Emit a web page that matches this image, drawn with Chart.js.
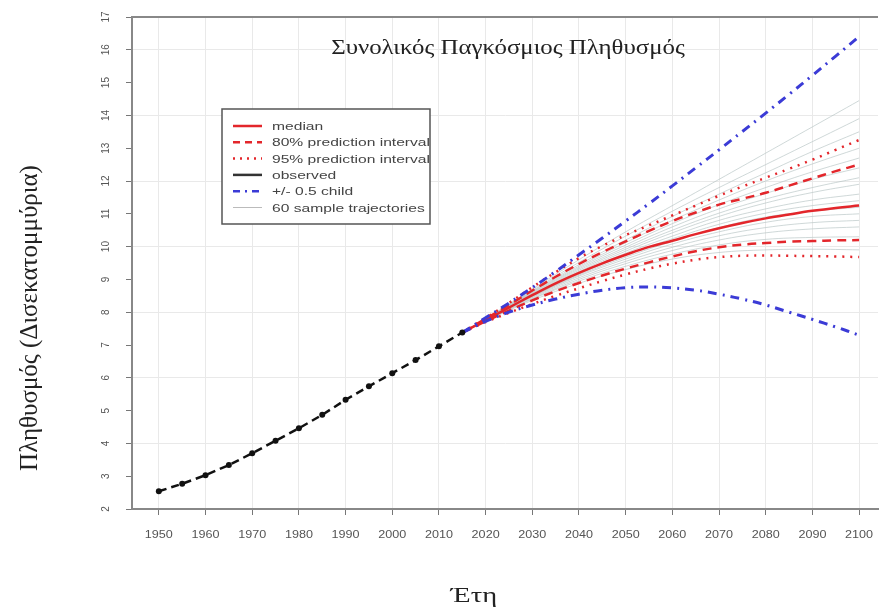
<!DOCTYPE html>
<html>
<head>
<meta charset="utf-8">
<script src="https://cdn.jsdelivr.net/npm/chart.js@4.4.1/dist/chart.umd.min.js"></script>
<style>
  html, body { margin: 0; padding: 0; background: #fff; }
  #popChart { display: block; }
</style>
</head>
<body>
<canvas id="popChart" width="882" height="610"></canvas>
<script>
// observed world population (billions), 1950-2015
const obsYears = [1950, 1955, 1960, 1965, 1970, 1975, 1980, 1985, 1990, 1995, 2000, 2005, 2010, 2015];
const obsPop = [2.54, 2.77, 3.03, 3.34, 3.70, 4.08, 4.46, 4.87, 5.33, 5.74, 6.14, 6.54, 6.96, 7.38];

// projections, 2015-2100
const projYears = [2015, 2020, 2025, 2030, 2035, 2040, 2045, 2050, 2055, 2060, 2065, 2070, 2075, 2080, 2085, 2090, 2095, 2100];
const median    = [7.38, 7.76, 8.14, 8.52, 8.88, 9.20, 9.49, 9.75, 9.99, 10.18, 10.38, 10.56, 10.72, 10.86, 10.98, 11.09, 11.18, 11.25];
const pi80Upper = [7.38, 7.80, 8.22, 8.66, 9.08, 9.47, 9.83, 10.16, 10.48, 10.78, 11.04, 11.28, 11.46, 11.64, 11.86, 12.08, 12.30, 12.50];
const pi80Lower = [7.38, 7.72, 8.05, 8.36, 8.64, 8.89, 9.12, 9.33, 9.52, 9.70, 9.86, 9.98, 10.06, 10.11, 10.15, 10.17, 10.19, 10.20];
const pi95Upper = [7.38, 7.82, 8.28, 8.76, 9.22, 9.65, 10.02, 10.35, 10.65, 10.95, 11.25, 11.55, 11.83, 12.10, 12.37, 12.65, 12.95, 13.25];
const pi95Lower = [7.38, 7.70, 7.98, 8.25, 8.50, 8.73, 8.95, 9.15, 9.33, 9.48, 9.60, 9.68, 9.72, 9.73, 9.72, 9.71, 9.70, 9.68];
const childPlus  = [7.38, 7.83, 8.28, 8.75, 9.24, 9.75, 10.26, 10.78, 11.31, 11.85, 12.40, 12.95, 13.51, 14.07, 14.64, 15.22, 15.81, 16.40];
const childMinus = [7.38, 7.72, 8.00, 8.22, 8.40, 8.55, 8.67, 8.75, 8.77, 8.74, 8.67, 8.55, 8.40, 8.22, 8.00, 7.78, 7.55, 7.30];

// sample trajectories (subset), read at these years
const trajYears = [2015, 2020, 2030, 2040, 2050, 2060, 2070, 2080, 2090, 2100];
const trajectories = [
  [7.38, 7.80, 8.70, 9.60, 10.45, 11.25, 12.05, 12.85, 13.65, 14.45],
  [7.38, 7.79, 8.66, 9.52, 10.32, 11.08, 11.80, 12.50, 13.20, 13.90],
  [7.38, 7.79, 8.64, 9.45, 10.20, 10.92, 11.60, 12.25, 12.90, 13.50],
  [7.38, 7.78, 8.62, 9.40, 10.12, 10.80, 11.42, 12.00, 12.52, 13.00],
  [7.38, 7.78, 8.60, 9.36, 10.05, 10.70, 11.28, 11.80, 12.28, 12.70],
  [7.38, 7.77, 8.58, 9.32, 9.98, 10.60, 11.15, 11.62, 12.05, 12.40],
  [7.38, 7.77, 8.56, 9.28, 9.92, 10.50, 11.02, 11.45, 11.80, 12.10],
  [7.38, 7.77, 8.54, 9.24, 9.86, 10.42, 10.92, 11.33, 11.65, 11.90],
  [7.38, 7.76, 8.52, 9.20, 9.80, 10.32, 10.80, 11.15, 11.42, 11.60],
  [7.38, 7.76, 8.50, 9.16, 9.74, 10.24, 10.68, 11.02, 11.25, 11.40],
  [7.38, 7.76, 8.49, 9.13, 9.68, 10.16, 10.58, 10.90, 11.08, 11.20],
  [7.38, 7.75, 8.47, 9.10, 9.62, 10.08, 10.45, 10.74, 10.92, 11.00],
  [7.38, 7.75, 8.45, 9.05, 9.55, 9.98, 10.33, 10.58, 10.73, 10.80],
  [7.38, 7.74, 8.42, 9.00, 9.48, 9.88, 10.20, 10.42, 10.54, 10.60],
  [7.38, 7.74, 8.40, 8.95, 9.40, 9.77, 10.05, 10.22, 10.28, 10.30],
  [7.38, 7.73, 8.36, 8.88, 9.30, 9.62, 9.82, 9.90, 9.92, 9.90]
];

const xTicks = [1950, 1960, 1970, 1980, 1990, 2000, 2010, 2020, 2030, 2040, 2050, 2060, 2070, 2080, 2090, 2100];
const yTicks = [2, 3, 4, 5, 6, 7, 8, 9, 10, 11, 12, 13, 14, 15, 16, 17];

const chartTitle = 'Συνολικός Παγκόσμιος Πληθυσμός';
const xTitle = 'Έτη';
const yTitle = 'Πληθυσμός (Δισεκατομμύρια)';

const RED = '#e3262b';
const BLUE = '#3b3bd6';
const SANS = '"Liberation Sans", Arial, sans-serif';
const SERIF = '"Liberation Serif", "DejaVu Serif", serif';

function pts(xs, ys) {
  return xs.map((x, i) => ({ x: x, y: ys[i] }));
}

const datasets = [];
trajectories.forEach(function (t) {
  datasets.push({
    data: pts(trajYears, t),
    borderColor: 'rgba(175,190,190,0.6)',
    borderWidth: 1,
    pointRadius: 0,
    tension: 0.4,
    order: 10
  });
});

function redLine(vals, dash) {
  return {
    data: pts(projYears, vals),
    borderColor: RED,
    borderWidth: 2.5,
    borderDash: dash,
    pointRadius: 0,
    tension: 0.4,
    order: 3
  };
}
datasets.push(redLine(pi95Upper, [2, 6]));
datasets.push(redLine(pi95Lower, [2, 6]));
datasets.push(redLine(pi80Upper, [9, 6]));
datasets.push(redLine(pi80Lower, [9, 6]));
datasets.push(Object.assign(redLine(median, []), { order: 2 }));

[childPlus, childMinus].forEach(function (v) {
  datasets.push({
    data: pts(projYears, v),
    borderColor: BLUE,
    borderWidth: 3,
    borderDash: [9, 6, 2, 6],
    pointRadius: 0,
    tension: 0.4,
    order: 1
  });
});

datasets.push({
  data: pts(obsYears, obsPop),
  borderColor: '#111',
  borderWidth: 2.5,
  borderDash: [8, 5],
  pointRadius: 3,
  pointBackgroundColor: '#111',
  pointBorderWidth: 0,
  order: 0
});

// legend entries
const legendItems = [
  { text: 'median', color: RED, dash: [], width: 2.5 },
  { text: '80% prediction interval', color: RED, dash: [7, 5], width: 2.5 },
  { text: '95% prediction interval', color: RED, dash: [2, 5], width: 2.5 },
  { text: 'observed', color: '#333', dash: [], width: 2.5 },
  { text: '+/- 0.5 child', color: BLUE, dash: [7, 5, 2, 5], width: 2.5 },
  { text: '60 sample trajectories', color: '#bbbbbb', dash: [], width: 1 }
];

// the source picture is stretched sideways, so text is widened a bit
function wideText(ctx, txt, x, y, sx) {
  ctx.save();
  ctx.translate(x, y);
  ctx.scale(sx, 1);
  ctx.fillText(txt, 0, 0);
  ctx.restore();
}

const decorations = {
  id: 'decorations',
  afterDraw(chart) {
    const ctx = chart.ctx;
    const a = chart.chartArea;
    const xs = chart.scales.x;
    const ys = chart.scales.y;
    ctx.save();

    // top frame line
    ctx.strokeStyle = '#888';
    ctx.lineWidth = 2;
    ctx.beginPath();
    ctx.moveTo(a.left, a.top);
    ctx.lineTo(a.right, a.top);
    ctx.stroke();

    // rotated y tick labels
    ctx.fillStyle = '#555';
    ctx.font = '10px ' + SANS;
    ctx.textAlign = 'center';
    ctx.textBaseline = 'middle';
    yTicks.forEach(function (v) {
      ctx.save();
      ctx.translate(106, ys.getPixelForValue(v));
      ctx.rotate(-Math.PI / 2);
      ctx.fillText(String(v), 0, 0);
      ctx.restore();
    });

    // x tick labels
    xTicks.forEach(function (v) {
      wideText(ctx, String(v), xs.getPixelForValue(v), 535, 1.26);
    });

    // title inside plot
    ctx.fillStyle = '#222';
    ctx.font = '22px ' + SERIF;
    wideText(ctx, chartTitle, 508, 48, 1.13);

    // axis titles
    ctx.font = '22px ' + SERIF;
    wideText(ctx, xTitle, 474, 596, 1.3);
    ctx.font = '25px ' + SERIF;
    ctx.save();
    ctx.translate(30, 318);
    ctx.rotate(-Math.PI / 2);
    ctx.fillText(yTitle, 0, 0);
    ctx.restore();

    // legend box
    const bx = 222, by = 109, bw = 208, bh = 115;
    ctx.fillStyle = '#fff';
    ctx.fillRect(bx, by, bw, bh);
    ctx.strokeStyle = '#555';
    ctx.lineWidth = 1.5;
    ctx.strokeRect(bx, by, bw, bh);
    ctx.font = '11px ' + SANS;
    ctx.textAlign = 'left';
    legendItems.forEach(function (it, i) {
      const ly = by + 17 + i * 16.3;
      ctx.strokeStyle = it.color;
      ctx.lineWidth = it.width;
      ctx.setLineDash(it.dash);
      ctx.beginPath();
      ctx.moveTo(bx + 11, ly);
      ctx.lineTo(bx + 40, ly);
      ctx.stroke();
      ctx.setLineDash([]);
      ctx.fillStyle = '#444';
      wideText(ctx, it.text, bx + 50, ly + 1, 1.42);
    });
    ctx.restore();
  }
};

new Chart(document.getElementById('popChart'), {
  type: 'line',
  data: { datasets: datasets },
  options: {
    responsive: false,
    animation: false,
    devicePixelRatio: 1,
    layout: { padding: { left: 0, right: 0, top: 17, bottom: 0 } },
    plugins: {
      legend: { display: false },
      tooltip: { enabled: false }
    },
    scales: {
      x: {
        type: 'linear',
        min: 1944.25,
        max: 2104.05,
        afterBuildTicks(scale) { scale.ticks = xTicks.map(v => ({ value: v })); },
        afterFit(scale) { scale.height = 101; },
        ticks: { display: false },
        grid: { color: '#e9e9e9', lineWidth: 1, tickColor: '#777', tickLength: 6 },
        border: { display: true, color: '#888', width: 2 }
      },
      y: {
        min: 2,
        max: 17,
        afterBuildTicks(scale) { scale.ticks = yTicks.map(v => ({ value: v })); },
        afterFit(scale) { scale.width = 132; },
        ticks: { display: false },
        grid: {
          color: ctx => (ctx.tick && ctx.tick.value % 2 === 0 && ctx.tick.value > 2 ? '#e9e9e9' : 'rgba(0,0,0,0)'),
          lineWidth: 1,
          tickColor: '#777',
          tickLength: 6
        },
        border: { display: true, color: '#888', width: 2 }
      }
    }
  },
  plugins: [decorations]
});
</script>
</body>
</html>
